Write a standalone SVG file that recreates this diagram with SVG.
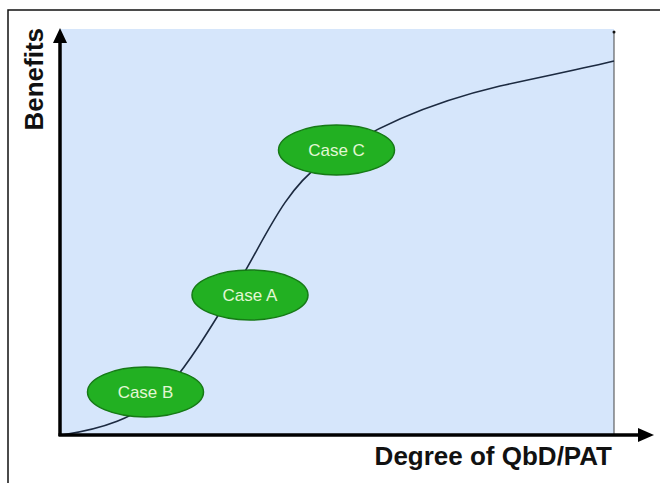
<svg xmlns="http://www.w3.org/2000/svg" width="660" height="483" viewBox="0 0 660 483">
<style>
.case ellipse{fill:#22b022;stroke:#167a16;stroke-width:1.5}
.case text{font-family:"Liberation Sans",Arial,sans-serif;font-size:17px;fill:#e2f7d4;text-anchor:middle}
.axislabel{font-family:"Liberation Sans",Arial,sans-serif;font-weight:bold;font-size:26px;fill:#111}
</style>
<rect x="0" y="0" width="660" height="483" fill="#fff"/>
<path d="M8,483 V10 H660" fill="none" stroke="#111" stroke-width="1.5"/>
<rect x="60" y="29" width="554" height="406" fill="#d6e6fb"/>
<g id="connectors">
<line x1="614" y1="32" x2="614" y2="435" stroke="#444" stroke-width="1"/>
<circle cx="614" cy="32" r="1.5" fill="#111"/>
<path d="M62,435 C95,430 140,420 170,385 C195,355 215,320 240,280 C265,238 285,190 320,165 C360,135 420,105 500,86 C550,75 590,67 614,61" fill="none" stroke="#1c2a40" stroke-width="1.6"/>
<line x1="60" y1="436" x2="60" y2="40" stroke="#000" stroke-width="3.5"/>
<polygon points="60,28 53,43 67,43" fill="#000"/>
<line x1="58.5" y1="435" x2="640" y2="435" stroke="#000" stroke-width="3.5"/>
<polygon points="654,435 638,428 638,442" fill="#000"/>
</g>
<g id="caseC" class="case"><ellipse cx="336.5" cy="150" rx="58" ry="25"/><text x="336.5" y="156">Case C</text></g>
<g id="caseA" class="case"><ellipse cx="250" cy="295" rx="58" ry="25"/><text x="250" y="301">Case A</text></g>
<g id="caseB" class="case"><ellipse cx="145.5" cy="392" rx="58" ry="25"/><text x="145.5" y="398">Case B</text></g>
<text class="axislabel" transform="translate(43,28) rotate(-90)" text-anchor="end" font-size="26.5">Benefits</text>
<text class="axislabel" x="612" y="465" text-anchor="end">Degree of QbD/PAT</text>
</svg>
